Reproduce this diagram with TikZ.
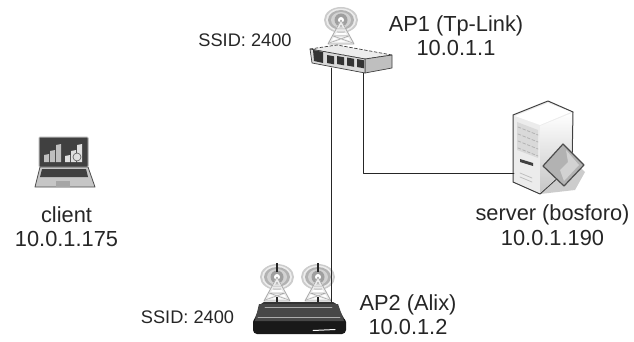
\documentclass[tikz,border=0pt]{standalone}
\usepackage{fontspec}
\setmainfont{Liberation Sans}
\tikzset{
	biglabel/.style={font=\fontsize{21.8}{24.5}\selectfont, align=center, text=black!85},
	ssidlabel/.style={font=\fontsize{18.2}{20}\selectfont, text=black!85},
	link/.style={line width=.9pt, black!85},
	edgeline/.style={line width=.7pt, black!75, line join=round},
	pics/antenna/.style={code={
		\fill[gray!40] (0,0) ellipse (17 and 13);
		\fill[gray!15] (0,0) ellipse (15 and 11.5);
		\fill[gray!60] (0,0) ellipse (13 and 10);
		\fill[gray!35] (0,0) ellipse (10 and 8);
		\fill[gray!75] (0,0) circle (6.5);
		\fill[white] (0,0) circle (3);
		\draw[line width=2.4pt, gray!15, line join=round] (0,2)--(-12,23)--(12,23)--cycle;
		\draw[line width=2pt, gray!15] (-8,16)--(8,16) (-4,9)--(4,9) (-12,23)--(8,16) (12,23)--(-8,16);
		\draw[line width=.7pt, gray!70, line join=round] (0,0)--(-13,24)--(13,24)--cycle;
		\draw[line width=.5pt, gray!70] (-8,16)--(8,16) (-4,9)--(4,9) (-12,23)--(8,16) (12,23)--(-8,16);
	}},
}
\begin{document}
\begin{tikzpicture}[x=1pt, y=-1pt, line join=round, line cap=round]
	\useasboundingbox (0,0) rectangle (634,342);
	\fill[white] (0,0) rectangle (634,342);
	% AP1 switch
	\pic at (341,20) {antenna};
	\draw[edgeline, densely dashed, fill=gray!15] (310,49)--(337,45)--(392,55)--(365,59)--cycle;
	\draw[edgeline, fill=gray!50] (365,59)--(392,55)--(392,68)--(365,73)--cycle;
	\draw[edgeline, fill=gray!30] (310,49)--(365,59)--(365,73)--(312,63)--cycle;
	\fill[black!80] (313,50)--(323,52)--(323,63)--(314,61)--cycle;
	\foreach \i/\j in {327/55,337/56,347/57.5,357/59}
		\fill[black!80] (\i,\j)--++(7,1.3)--++(0,8)--++(-7,-1.3)--cycle;
	\coordinate (swleft) at (331,68);
	\coordinate (swright) at (363,73);
	% AP2 router
	\pic at (277,277) {antenna};
	\pic at (318,277) {antenna};
	\draw[line width=1.8pt, black!85, line cap=butt] (277,263)--(277,272) (277,297)--(277,302) (318,263)--(318,272) (318,297)--(318,302);
	\fill[black!80, rounded corners=2pt] (262,302)--(335,302)--(346,322)--(253,322)--cycle;
	\fill[black!90, rounded corners=4pt] (253,318)--(346,318)--(346,334)--(253,334)--cycle;
	\fill[black!72] (259,304)--(338,304)--(344,321)--(255,321)--cycle;
	\draw[line width=.7pt, gray!65] (265,307)--(332,307) (258,317)--(340,317);
	\draw[line width=1pt, gray!5] (313,330.5)--(335,329.5);
	\coordinate (aptop) at (331,302);
	% server
	\fill[gray!40] (540,194)--(575,190)--(585,172)--(572,160)--cycle;
	\draw[line width=1pt, black!75, fill=gray!15] (513,115)--(548,101)--(573,112)--(572,165)--(540,194)--(513,182)--cycle;
	\shade[top color=white, bottom color=gray!45] (540,126)--(572,113)--(571,165)--(540,193)--cycle;
	\fill[white] (515,116)--(548,103)--(571,112)--(540,125)--cycle;
	\fill[gray!30] (517,122)--(538,130)--(538,158)--(517,150)--cycle;
	\foreach \j in {0,1,2,3}
		\draw[gray!60, line width=.8pt, dash pattern=on 3pt off 2pt] (518,{127+\j*7})--(538,{135+\j*7});
	\fill[black!75] (520,159)--(533,163)--(533,166)--(520,162)--cycle;
	\draw[gray!50, line width=.8pt] (520,173)--(532,178) (520,177)--(532,182);
	\draw[black!70, line width=1.2pt, fill=gray!60] (563,144)--(584,165)--(564,186)--(543,166)--cycle;
	\fill[gray!35] (566,150)--(579,165)--(564,181)--(560,170)--(568,162)--cycle;
	\coordinate (srvport) at (514,173);
	% client laptop
	\draw[line width=1pt, gray!60, fill=black!75, rounded corners=1pt] (39,137)--(88,137)--(88,167)--(39,167)--cycle;
	\foreach \i/\h in {44/7,50/11,56/17}
		\fill[gray!50] (\i,162)--++(0,-\h)--++(5,-1)--(\i+5,162)--cycle;
	\foreach \i/\h in {65/6,71/11,77/17}
		\fill[gray!25] (\i,162)--++(0,-\h)--++(5,-1)--(\i+5,162)--cycle;
	\draw[black!60, line width=.7pt, fill=gray!25] (77,157) circle (4);
	\draw[black!70, fill=gray!45, line width=.8pt] (40,167)--(88,167)--(95,187)--(35,187)--cycle;
	\fill[black!75] (42,169)--(86,169)--(88,177)--(40,177)--cycle;
	\fill[gray!70] (56,181) rectangle (70,187);
	\coordinate (laptop) at (66,162);
	% labels
	\node[biglabel] (aponelabel) at (456,35.5) {AP1 (Tp-Link)\\10.0.1.1};
	\node[ssidlabel] (ssidone) at (245,40) {SSID: 2400};
	\node[biglabel] (clientlabel) at (66.5,226.5) {client\\10.0.1.175};
	\node[biglabel] (srvlabel) at (552.5,225) {server (bosforo)\\10.0.1.190};
	\node[biglabel] (aptwolabel) at (408,314.5) {AP2 (Alix)\\10.0.1.2};
	\node[ssidlabel] (ssidtwo) at (187.5,317) {SSID: 2400};
	% links
	\draw[link] (swleft)--(aptop);
	\draw[link] (swright)|-(srvport);
\end{tikzpicture}
\end{document}
